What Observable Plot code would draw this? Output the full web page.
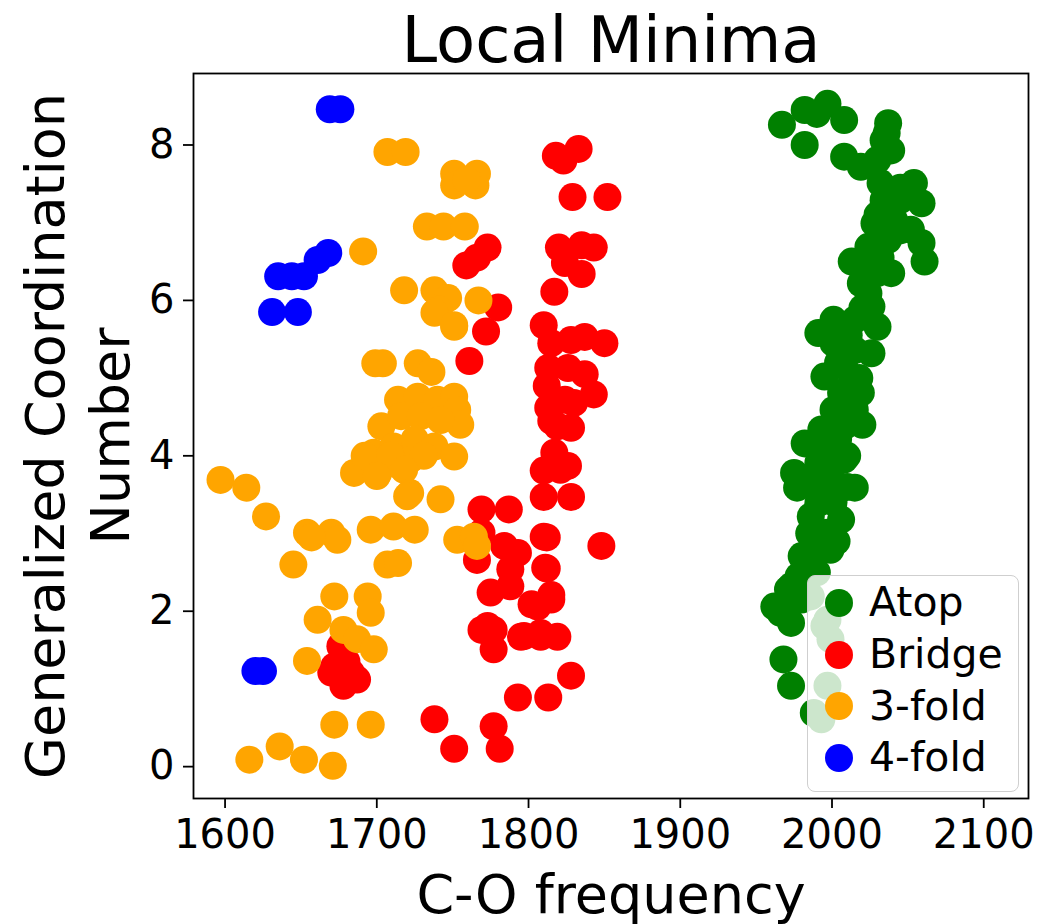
<!DOCTYPE html>
<html>
<head>
<meta charset="utf-8">
<script src="https://cdn.jsdelivr.net/npm/d3@7"></script>
<script src="https://cdn.jsdelivr.net/npm/@observablehq/plot@0.6"></script>
<style>
  html, body { margin: 0; padding: 0; background: #fff; }
  #chart { position: relative; width: 1060px; height: 924px; font-family: "DejaVu Sans", sans-serif; }
  #legend {
    position: absolute; left: 807px; top: 575px; width: 210px; height: 214px;
    border: 1.5px solid #cfcfcf; border-radius: 8px; background: rgba(255,255,255,0.8);
    padding-top: 1px; box-sizing: content-box;
  }
  .row { display: flex; align-items: center; height: 51.7px; padding-left: 17px; }
  .sw { width: 28px; height: 28px; border-radius: 50%; margin-right: 16px; flex: none; }
  .lab { font-size: 41px; color: #000; line-height: 1; }
</style>
</head>
<body>
<div id="chart"></div>
<script>
// Adsorption-site categories and their marker colours
const categories = ["Atop", "Bridge", "3-fold", "4-fold"];
const colors = ["green", "red", "orange", "blue"];

// Axis ticks
const xTicks = [1600, 1700, 1800, 1900, 2000, 2100];
const yTicks = [0, 2, 4, 6, 8];

// Atop sites: C-O frequency (cm^-1) and generalized coordination number
const atopFreq = [1967,1982,1997,2008,1982,1990,2037,2034,2039,2036,2008,2019,2030,2032,2054,2059,2045,2034,2045,
  2028,2041,2052,2059,2061,2037,2024,2013,2024,2039,2019,2030,2024,2026,2015,2001,1991,2030,2001,2026,2015,
  2008,1995,2015,2006,2019,2015,2001,2008,1993,1982,2001,2008,1991,1999,1977,1993,2015,1991,2006,1997,1999,1980,
  2004,1995,1975,1990,1986,1993,1984,1973,1986,1962,1973,1995,1968,1973,1999,1997,1993,1988,1971,1997,
  2001,2010,1985,2003,1990,1978,2010,2020,2004,2020,2032,2045,2030,2011,2018,1966,1980];
const atopGcn = [8.26,8.45,8.53,8.32,8.00,8.40,8.28,8.06,7.93,8.15,7.85,7.72,7.81,7.51,7.51,7.25,7.29,7.29,7.45,
  6.99,7.03,6.91,6.74,6.50,6.78,6.69,6.50,6.48,6.35,6.22,6.35,6.09,5.92,5.75,5.75,5.58,5.66,5.45,5.32,5.36,
  5.15,5.02,4.98,4.81,4.81,4.59,4.59,4.38,4.34,4.16,4.12,3.95,3.91,3.74,3.59,3.61,3.59,3.39,3.18,3.01,2.79,2.71,
  4.21,4.04,3.78,3.78,3.22,2.79,2.62,2.32,2.19,2.06,1.85,1.81,1.38,1.04,1.64,1.04,0.61,0.69,2.28,1.89,
  3.40,3.60,3.00,2.90,2.50,2.45,4.00,4.40,5.20,5.90,6.55,6.90,7.10,5.55,5.00,1.98,2.15];

// Bridge sites
const bridgeFreq = [1818,1833,1823,1829,1852,1773,1759,1766,1820,1835,1843,1824,1835,1817,1780,1772,1761,
  1810,1815,1828,1837,1850,1813,1826,1837,1843,1813,1830,1815,1828,1819,1824,1812,1817,1826,1810,1821,
  1810,1828,1812,1848,1812,1815,1802,1795,1808,1819,1828,1793,1813,1777,1781,1751,1738,
  1769,1787,1769,1784,1793,1766,1788,1775,1788,1806,1815,1769,1777,1797,1808,1777,1810,1811,1773,
  1676,1672,1683,1687,1678,1670,1680];
const bridgeGcn = [7.86,7.95,7.80,7.33,7.33,6.68,6.45,6.55,6.68,6.71,6.68,6.48,6.34,6.11,5.91,5.60,5.22,
  5.68,5.45,5.49,5.53,5.45,5.13,5.13,5.05,4.79,4.62,4.68,4.45,4.36,4.38,4.72,4.90,4.04,3.87,3.81,3.82,
  3.47,3.47,2.95,2.84,2.55,2.21,2.09,1.67,1.67,1.67,1.17,0.89,0.89,0.52,0.23,0.23,0.61,
  3.31,3.31,3.01,2.84,2.75,2.66,2.54,2.24,2.32,2.06,2.15,1.76,1.76,1.68,1.72,1.51,2.96,2.56,1.81,
  1.55,1.29,1.21,1.12,1.04,1.21,1.35];

// 3-fold sites
const threeFreq = [1707,1719,1751,1766,1751,1765,1759,1733,1744,1758,1691,1718,1738,1747,1741,1751,1767,1738,1751,
  1699,1727,1736,1704,1714,1727,1740,1751,1753,1755,1703,1716,1729,1742,1698,1711,1725,1738,1751,1685,1701,1716,1722,
  1692,1709,1731,1700,1718,1722,1742,1720,1597,1614,1627,1696,1711,1725,1654,1670,1674,1657,1753,1764,1766,
  1707,1714,1645,1672,1694,1661,1696,1678,1687,1698,1654,1672,1696,1636,1616,1652,1671];
const threeGcn = [7.91,7.91,7.63,7.63,7.48,7.48,7.55,6.95,6.95,6.95,6.63,6.13,6.13,6.03,5.88,5.66,6.00,5.84,5.68,
  5.19,5.19,5.08,5.19,4.72,4.76,4.72,4.76,4.59,4.40,4.38,4.51,4.51,4.46,4.04,4.12,4.21,4.12,3.99,3.78,3.78,3.86,3.95,
  4.00,4.00,4.00,3.74,3.82,3.52,3.44,3.48,3.69,3.59,3.22,3.05,3.09,3.05,3.01,3.01,2.92,2.95,2.92,2.96,2.84,
  2.60,2.62,2.60,2.19,2.19,1.89,1.98,1.76,1.64,1.51,1.36,0.54,0.54,0.26,0.09,0.09,0.01];

// 4-fold sites
const fourFreq = [1669,1676,1668,1661,1652,1644,1635,1631,1648,1620,1625];
const fourGcn = [8.46,8.46,6.61,6.52,6.31,6.31,6.31,5.85,5.85,1.23,1.23];

const series = [
  [atopFreq, atopGcn],
  [bridgeFreq, bridgeGcn],
  [threeFreq, threeGcn],
  [fourFreq, fourGcn]
];
const points = series.flatMap(([fx, gy], i) =>
  fx.map((f, j) => ({site: categories[i], freq: f, gcn: gy[j]})));

const font = "DejaVu Sans";

const chart = Plot.plot({
  width: 1060,
  height: 924,
  marginLeft: 193,
  marginRight: 32,
  marginTop: 73,
  marginBottom: 126,
  style: {fontFamily: font, background: "#fff", color: "#000"},
  x: {domain: [1579.2, 2129.5]},
  y: {domain: [-0.41, 8.92]},
  color: {domain: categories, range: colors},
  marks: [
    Plot.dot(points, {x: "freq", y: "gcn", r: 14, fill: "site", stroke: null}),
    Plot.frame({stroke: "#000", strokeWidth: 1.8}),
    Plot.axisX({ticks: xTicks, tickSize: 10, tickPadding: 11, fontSize: 40, strokeWidth: 1.8, label: null, tickFormat: d => String(d)}),
    Plot.axisY({ticks: yTicks, tickSize: 10, tickPadding: 9, fontSize: 40, strokeWidth: 1.8, label: null}),
    Plot.text(["Local Minima"], {frameAnchor: "top", lineAnchor: "bottom", dy: -12, fontSize: 64, fill: "#000"}),
    Plot.text(["C-O frequency"], {frameAnchor: "bottom", lineAnchor: "bottom", dy: 114, fontSize: 54, fill: "#000"}),
    Plot.text(["Generalized Coordination\nNumber"], {frameAnchor: "left", textAnchor: "middle", rotate: -90, lineAnchor: "middle", lineHeight: 1.2, dx: -118, fontSize: 54, fill: "#000"})
  ]
});

const root = document.getElementById("chart");
root.appendChild(chart);

// Legend box drawn over the plot area, lower right
const legend = document.createElement("div");
legend.id = "legend";
categories.forEach((c, i) => {
  const row = document.createElement("div");
  row.className = "row";
  const sw = document.createElement("span");
  sw.className = "sw";
  sw.style.background = colors[i];
  const lab = document.createElement("span");
  lab.className = "lab";
  lab.textContent = c;
  row.appendChild(sw);
  row.appendChild(lab);
  legend.appendChild(row);
});
root.appendChild(legend);
</script>
</body>
</html>
